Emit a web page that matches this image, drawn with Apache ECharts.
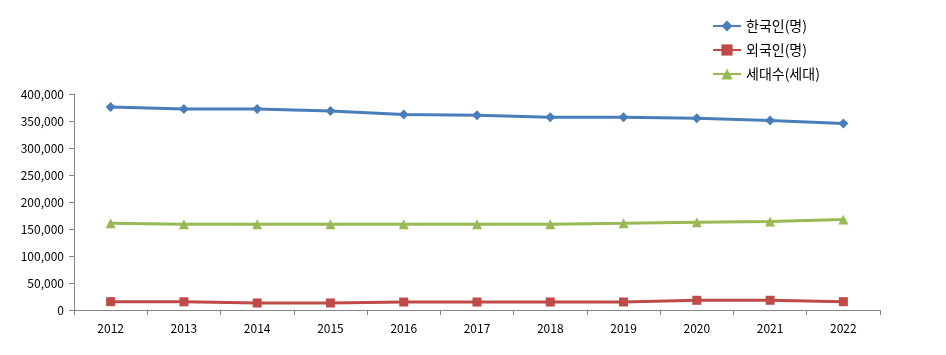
<!DOCTYPE html>
<html><head><meta charset="utf-8">
<script src="https://cdn.jsdelivr.net/npm/echarts@6/dist/echarts.min.js"></script>
<style>html,body{margin:0;padding:0;background:#fff}#c{width:946px;height:355px}</style>
</head><body><div id="c"></div>
<script>
const years = ['2012','2013','2014','2015','2016','2017','2018','2019','2020','2021','2022'];
const koreans = [376000, 372000, 372000, 368500, 362000, 360500, 357000, 357000, 355000, 351000, 345500];
const foreigners = [15400, 15200, 13000, 13000, 14800, 14800, 14800, 14800, 18000, 18000, 15400];
const households = [160500, 159000, 159000, 159000, 159000, 159000, 159000, 160500, 162400, 163800, 167500];
const seriesNames = ['한국인(명)', '외국인(명)', '세대수(세대)'];

const font = '"Malgun Gothic","Noto Sans CJK KR",sans-serif';
const chart = echarts.init(document.getElementById('c'));
function mk(name, data, color, symbol, size) {
  return {
    name, type: 'line', data, symbol, symbolSize: size,
    itemStyle: { color },
    lineStyle: { color, width: 3 },
    animation: false
  };
}
chart.setOption({
  animation: false,
  legend: {
    orient: 'vertical', left: 707, top: 14, itemWidth: 28, itemHeight: 14, itemGap: 10,
    textStyle: { fontFamily: font, fontSize: 14, color: '#000' },
    data: seriesNames
  },
  grid: { left: 74, right: 66, top: 94, bottom: 45 },
  xAxis: {
    type: 'category', data: years, boundaryGap: true,
    axisLine: { lineStyle: { color: '#868686' } },
    axisTick: { show: true, length: 5, lineStyle: { color: '#868686' } },
    axisLabel: { fontFamily: font, fontSize: 12, color: '#000', margin: 12 }
  },
  yAxis: {
    type: 'value', min: 0, max: 400000, interval: 50000,
    splitLine: { show: false },
    axisLine: { show: true, lineStyle: { color: '#868686' } },
    axisTick: { show: true, length: 5, lineStyle: { color: '#868686' } },
    axisLabel: { fontFamily: font, fontSize: 12, color: '#000', margin: 10,
      formatter: v => v.toLocaleString('en-US') }
  },
  series: [
    mk(seriesNames[0], koreans, '#4A7EBB', 'diamond', 10),
    mk(seriesNames[1], foreigners, '#BE4B48', 'rect', 9),
    mk(seriesNames[2], households, '#98B954', 'triangle', 10)
  ]
});
</script></body></html>
